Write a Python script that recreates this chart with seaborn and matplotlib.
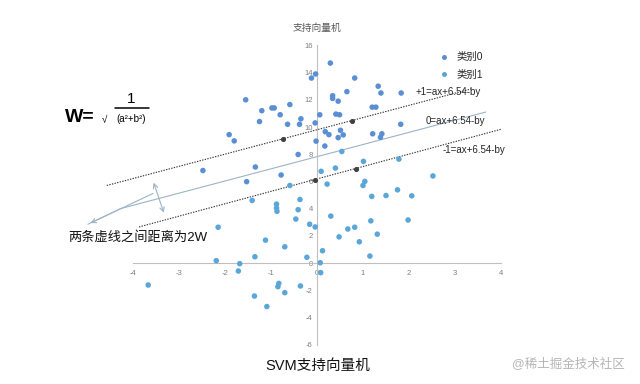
import matplotlib
matplotlib.use("Agg")
import matplotlib.pyplot as plt
import seaborn as sns
import pandas as pd

# 类别0 (上方) 的点
c0_x = [0.29, -0.03, -0.12, 0.82, 1.33, 1.39, 1.83, 0.65, 0.34, 0.34, 0.46, -1.55, -0.59, -0.98, -0.93,
        -1.2, -0.8, -0.35, -0.38, -0.64, -1.25, -0.04, 0.06, 0.41, 0.49, 1.2, 1.28, 1.82, -1.91, -1.8,
        -0.02, 0.18, 0.26, 0.51, 0.57, 0.46, 0.17, 1.21, 1.41, 1.38, -0.41, -2.48, -1.34, -0.78, -1.53]
c0_y = [14.7, 13.9, 13.6, 13.6, 13.0, 12.5, 12.5, 12.6, 12.3, 12.1, 11.9, 12.0, 11.65, 11.4, 11.4,
        11.2, 10.9, 10.6, 10.2, 10.2, 10.4, 10.3, 10.9, 10.95, 10.9, 11.46, 11.46, 10.2, 9.44, 8.98,
        8.96, 9.66, 9.44, 9.76, 9.42, 9.22, 8.6, 9.5, 9.5, 9.24, 7.98, 6.8, 7.06, 6.47, 5.98]

# 类别1 (下方) 的点
c1_x = [0.54, 1.01, 1.78, 0.09, 0.4, 0.22, 1.04, 1.0, 2.52, 1.75, 2.06, 1.5, 1.19, -1.41, -0.37,
        -0.88, -0.88, -0.87, -0.41, -0.46, 0.3, 1.17, 1.98, -2.15, -0.16, -0.04, 0.67, 0.82, 1.31, 0.48,
        -1.12, 0.92, -0.7, 0.12, -1.35, -0.22, 1.15, -2.19, -1.68, 0.07, -1.71, 0.08, -3.67, -0.83, -0.85,
        -0.36, -0.7, -1.36, -1.09, -0.59]
c1_y = [8.2, 7.47, 7.64, 6.74, 6.98, 5.8, 6.0, 5.7, 6.4, 5.38, 4.94, 4.96, 4.9, 4.6, 4.67,
        4.33, 4.04, 3.8, 3.92, 3.23, 3.45, 3.1, 3.16, 2.63, 2.85, 2.65, 2.5, 2.63, 2.12, 1.92,
        1.68, 1.56, 1.19, 0.9, 0.46, 0.42, 0.51, 0.17, -0.05, 0.02, -0.59, -0.71, -1.62, -1.5, -1.74,
        -1.69, -2.18, -2.43, -3.2, 5.7]

# 支持向量 (黑点)
sv_x = [-0.75, 0.75, -0.05, 0.85]
sv_y = [9.1, 10.45, 6.1, 6.9]

# 三条线的端点
plus_x, plus_y = [-4.57, 3.35], [5.7, 12.8]
zero_x, zero_y = [-4.27, 3.67], [4.0, 11.1]
minus_x, minus_y = [-3.87, 4.02], [2.65, 9.85]

line_labels = ['+1=ax+6.54-by', '0=ax+6.54-by', '-1=ax+6.54-by']

x_ticks = [-4, -3, -2, -1, 0, 1, 2, 3, 4]
y_ticks = [-6, -4, -2, 0, 2, 4, 6, 8, 10, 12, 14, 16]

df = pd.DataFrame({
    'x': c0_x + c1_x,
    'y': c0_y + c1_y,
    'cls': ['类别0'] * len(c0_x) + ['类别1'] * len(c1_x),
})

sns.set_theme(style="white")
plt.rcParams['font.family'] = ['Liberation Sans', 'Noto Sans CJK SC', 'DejaVu Sans']
plt.rcParams['axes.unicode_minus'] = False

W, H = 640, 384
fig = plt.figure(figsize=(6.4, 3.84), dpi=100)
ax = fig.add_axes([133 / W, 1 - 344.6 / H, 368 / W, 299.2 / H])

axis_c = '#BFBFBF'
text_c = '#7F7F7F'
line_c = '#9DB3C6'

ax.plot(zero_x, zero_y, color=line_c, lw=0.8, clip_on=False, zorder=1)
ax.plot(plus_x, plus_y, color='#303030', lw=0.8, ls=(0, (1.2, 1.2)), clip_on=False, zorder=1)
ax.plot(minus_x, minus_y, color='#303030', lw=0.8, ls=(0, (1.2, 1.2)), clip_on=False, zorder=1)

sns.scatterplot(data=df, x='x', y='y', hue='cls', palette={'类别0': '#5A8FD4', '类别1': '#5AA6D9'},
                s=16, linewidth=0, ax=ax, zorder=3)
ax.scatter(sv_x, sv_y, s=7, color='#404040', zorder=4)

ax.set_xlim(-4, 4)
ax.set_ylim(-6, 16)
ax.set_xticks(x_ticks)
ax.set_yticks(y_ticks)
ax.set_xlabel('')
ax.set_ylabel('')
for s in ['top', 'right']:
    ax.spines[s].set_visible(False)
ax.spines['left'].set_position('zero')
ax.spines['bottom'].set_position('zero')
for s in ['left', 'bottom']:
    ax.spines[s].set_color(axis_c)
    ax.spines[s].set_linewidth(0.8)
ax.tick_params(axis='both', length=0, labelsize=5.5, labelcolor=text_c)
ax.tick_params(axis='x', pad=5)
ax.tick_params(axis='y', pad=3)

handles, labels = ax.get_legend_handles_labels()
ax.legend(handles, labels, loc='upper left', bbox_to_anchor=(428 / W, 1 - 47 / H),
          bbox_transform=fig.transFigure, frameon=False, fontsize=7.5, handletextpad=0.2,
          labelspacing=0.75, markerscale=0.9, borderpad=0)

fig.text(317 / W, 1 - 28 / H, '支持向量机', ha='center', va='center', fontsize=7, color='#595959')

# 线旁边的标注
for t, px, py in zip(line_labels, [448, 455, 474], [92, 121, 149.5]):
    fig.text(px / W, 1 - py / H, t, ha='center', va='center', fontsize=7, color='#262626')

# 公式
fig.text(65 / W, 1 - 117 / H, 'W=', fontsize=14, fontweight='bold', ha='left', va='center', color='black')
fig.text(102 / W, 1 - 120 / H, '√', fontsize=7, ha='left', va='center', color='black')
fig.text(131 / W, 1 - 99 / H, '1', fontsize=11, ha='center', va='center', color='black')
fig.add_artist(plt.Line2D([115 / W, 149 / W], [1 - 108 / H, 1 - 108 / H], color='black', lw=1.1))
fig.text(131 / W, 1 - 119 / H, '(a²+b²)', fontsize=7, ha='center', va='center', color='black')

# 间距说明
fig.text(68 / W, 1 - 237 / H, '两条虚线之间距离为2W', fontsize=9.5, ha='left', va='center', color='#111111')
ax.annotate('', xy=(-3.57, 6.1), xytext=(-3.31, 3.5), xycoords='data', annotation_clip=False,
            arrowprops=dict(arrowstyle='<->', color=line_c, lw=0.8, mutation_scale=8))
ax.annotate('', xy=(-4.98, 2.85), xytext=(-3.51, 5.2), xycoords='data', annotation_clip=False,
            arrowprops=dict(arrowstyle='->', color=line_c, lw=0.8, mutation_scale=8))
ax.plot([-4.98, -4.27], [2.85, 4.0], color=line_c, lw=0.8, clip_on=False)

fig.text(318 / W, 1 - 366 / H, 'SVM支持向量机', fontsize=10.5, ha='center', va='center', color='#111111')
fig.text(625 / W, 1 - 364 / H, '@稀土掘金技术社区', fontsize=9, ha='right', va='center', color='#B5B5B5')

plt.savefig('out.png', dpi=100)
plt.close()
